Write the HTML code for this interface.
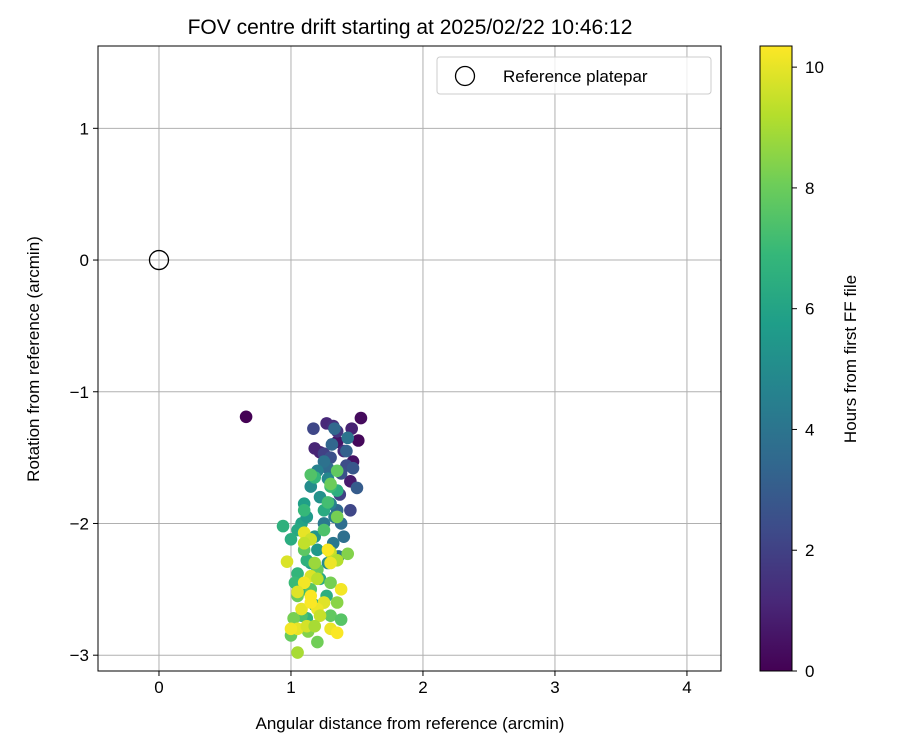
<!DOCTYPE html>
<html><head><meta charset="utf-8"><style>body{margin:0;background:#fff}svg{font-family:"Liberation Sans","DejaVu Sans",sans-serif}</style></head>
<body>
<svg id="c" width="900" height="750" xmlns="http://www.w3.org/2000/svg"></svg>
<script>
const xTicks=[0,1,2,3,4];
const yTicks=[1,0,-1,-2,-3];
const cTicks=[0,2,4,6,8,10];
const ptX=[0.66,1.53,1.51,1.47,1.45,1.35,1.46,1.27,1.32,1.40,1.22,1.18,1.35,
1.17,1.25,1.30,1.42,1.47,1.38,1.45,1.37,1.50,1.42,1.33,1.31,1.28,1.40,1.38,1.35,1.43,1.25,
1.20,1.28,1.15,1.22,1.30,1.33,1.25,1.32,1.36,1.20,1.10,1.08,1.12,1.18,1.05,1.00,1.28,1.15,1.25,1.35,1.18,1.10,1.30,1.12,1.05,1.22,1.27,1.10,1.18,1.03,1.12,0.94,
1.15,1.30,1.28,1.35,1.25,1.10,1.20,1.30,1.15,1.05,1.08,1.30,1.38,1.25,1.20,1.00,1.13,1.35,1.02,1.43,1.35,
0.97,1.10,1.15,1.10,1.30,1.35,1.30,1.15,1.10,1.20,1.05,1.15,1.38,1.25,1.20,1.08,1.15,1.05,1.12,1.00,1.30,1.35,1.05,1.22,1.18,1.28,1.18];
const ptY=[-1.19,-1.20,-1.37,-1.53,-1.68,-1.38,-1.28,-1.24,-1.26,-1.45,-1.46,-1.43,-1.30,
-1.28,-1.47,-1.50,-1.56,-1.58,-1.62,-1.90,-1.78,-1.73,-1.45,-1.28,-1.40,-1.58,-2.10,-2.00,-1.90,-1.35,-1.53,
-1.60,-1.66,-1.72,-1.80,-1.85,-1.95,-2.00,-2.15,-2.25,-2.20,-1.85,-2.00,-1.95,-2.10,-2.05,-2.12,-2.30,-2.30,-1.90,-1.75,-1.65,-1.90,-1.72,-2.28,-2.38,-2.42,-2.55,-2.50,-2.62,-2.45,-2.72,-2.02,
-1.63,-1.70,-1.84,-1.60,-2.05,-2.20,-2.35,-2.45,-2.50,-2.55,-2.70,-2.70,-2.73,-2.60,-2.90,-2.85,-2.82,-2.60,-2.72,-2.23,-1.95,
-2.29,-2.07,-2.12,-2.15,-2.22,-2.28,-2.30,-2.40,-2.45,-2.42,-2.52,-2.55,-2.50,-2.60,-2.65,-2.65,-2.60,-2.80,-2.78,-2.80,-2.80,-2.83,-2.98,-2.70,-2.78,-2.20,-2.30];
const ptT=[0,0.3,0.2,0.5,0.8,0.6,1.0,1.2,1.4,1.2,1.0,1.1,1.6,
2.2,2.0,2.5,2.4,2.8,2.6,2.2,2.0,3.0,3.2,3.5,3.4,3.6,3.8,3.7,3.5,4.0,3.9,
4.5,4.8,5.0,5.2,4.6,4.4,4.2,4.1,4.3,5.5,5.8,6.0,5.6,5.4,6.2,6.4,5.0,6.0,6.3,6.5,6.8,6.9,7.0,6.6,6.8,6.2,6.5,6.9,6.4,7.0,6.7,6.6,
7.5,8.0,7.2,7.8,7.4,7.7,7.9,8.2,7.6,8.0,7.4,7.8,7.6,8.3,8.1,7.9,8.4,8.5,8.2,8.4,8.2,
9.8,10.0,9.6,9.4,9.5,9.2,10.1,9.8,10.2,9.3,9.9,10.3,10.2,9.9,10.1,10.0,10.3,10.0,9.7,10.2,10.1,10.3,9.0,9.5,9.0,10.3,8.8];
const tMax=10.35;
const VIR=[[68,1,84],[72,40,120],[62,74,137],[49,104,142],[38,130,142],[31,158,137],[53,183,121],[109,205,89],[180,222,44],[253,231,37]];
function vir(v){v=Math.max(0,Math.min(1,v))*(VIR.length-1);const i=Math.min(Math.floor(v),VIR.length-2),f=v-i;const a=VIR[i],b=VIR[i+1];return `rgb(${a.map((c,k)=>Math.round(c+(b[k]-c)*f)).join(',')})`;}
const L=98,R=721,T=46,B=671;
const xMin=-0.462,xMax=4.258,yMin=-3.12,yMax=1.625;
const sx=v=>L+(v-xMin)/(xMax-xMin)*(R-L);
const sy=v=>B-(v-yMin)/(yMax-yMin)*(B-T);
const cy=v=>671-v/tMax*(671-46);
const svg=document.getElementById('c');const NS='http://www.w3.org/2000/svg';
function el(t,a,p,txt){if(typeof p==='string'){txt=p;p=null;}const e=document.createElementNS(NS,t);for(const k in a)e.setAttribute(k,a[k]);if(txt!==undefined)e.textContent=txt;(p||svg).appendChild(e);return e;}
xTicks.forEach(v=>{const g=el('line',{x1:sx(v),x2:sx(v),y1:T,y2:B,stroke:'#b0b0b0','stroke-width':1});
const t=el('line',{x1:sx(v),x2:sx(v),y1:B,y2:B+5,stroke:'#000'});
const l=el('text',{x:sx(v),y:B+22,'text-anchor':'middle','font-size':17},String(v));});
yTicks.forEach(v=>{const g=el('line',{x1:L,x2:R,y1:sy(v),y2:sy(v),stroke:'#b0b0b0','stroke-width':1});
const t=el('line',{x1:L-5,x2:L,y1:sy(v),y2:sy(v),stroke:'#000'});
const l=el('text',{x:L-9,y:sy(v)+6,'text-anchor':'end','font-size':17},v<0?'\u2212'+(-v):String(v));});
for(let i=0;i<ptX.length;i++){const c=el('circle',{cx:sx(ptX[i]),cy:sy(ptY[i]),r:6.3,fill:vir(ptT[i]/tMax)});}
const ref=el('circle',{cx:sx(0),cy:sy(0),r:9.5,fill:'none',stroke:'#000','stroke-width':1.3});
const fr=el('rect',{x:L,y:T,width:R-L,height:B-T,fill:'none',stroke:'#000','stroke-width':1});
const lg=el('g',{});
el('rect',{x:437,y:57,width:274,height:37,rx:3,fill:'#fff','fill-opacity':0.8,stroke:'#ccc'},lg);
el('circle',{cx:465,cy:76,r:9.5,fill:'none',stroke:'#000','stroke-width':1.3},lg);
el('text',{x:503,y:82,'font-size':17},lg,'Reference platepar');
const defs=el('defs',{});const gr=el('linearGradient',{id:'vg',x1:0,y1:1,x2:0,y2:0},defs);
VIR.forEach((c,i)=>el('stop',{offset:i/(VIR.length-1),'stop-color':`rgb(${c})`},gr));
const cb=el('rect',{x:760,y:46,width:32,height:625,fill:'url(#vg)',stroke:'#000','stroke-width':1});
cTicks.forEach(v=>{const t=el('line',{x1:792,x2:797,y1:cy(v),y2:cy(v),stroke:'#000'});
const l=el('text',{x:805,y:cy(v)+6,'font-size':17},String(v));});
const tt=el('text',{x:410,y:34,'text-anchor':'middle','font-size':21},'FOV centre drift starting at 2025/02/22 10:46:12');
const xt=el('text',{x:410,y:729,'text-anchor':'middle','font-size':17},'Angular distance from reference (arcmin)');
const yt=el('text',{x:0,y:0,'text-anchor':'middle','font-size':17,transform:'translate(39,359) rotate(-90)'},'Rotation from reference (arcmin)');
const ct=el('text',{x:0,y:0,'text-anchor':'middle','font-size':17,transform:'translate(856,359) rotate(-90)'},'Hours from first FF file');
</script>
</body></html>
